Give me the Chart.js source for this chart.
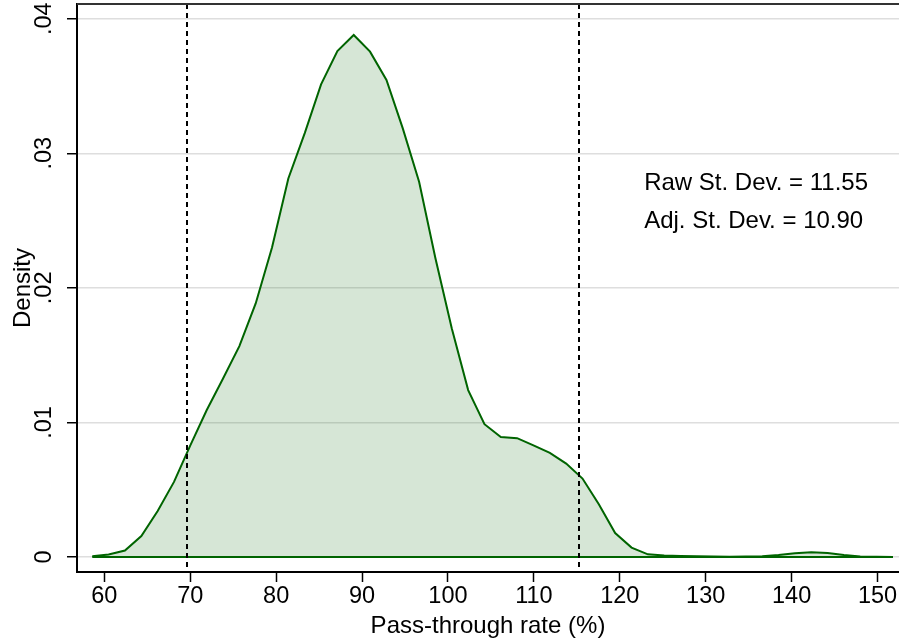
<!DOCTYPE html>
<html>
<head>
<meta charset="utf-8">
<script src="https://cdn.jsdelivr.net/npm/chart.js@4.4.1/dist/chart.umd.min.js"></script>
<style>
  html, body { margin: 0; padding: 0; background: #ffffff; }
  #wrap { width: 899px; height: 644px; }
</style>
</head>
<body>
<div id="wrap"><canvas id="c" width="899" height="644"></canvas></div>
<script>
// ---- data ----
const passThrough = [58.60, 60.50, 62.40, 64.31, 66.21, 68.11, 70.01, 71.91, 73.82, 75.72,
  77.62, 79.52, 81.42, 83.33, 85.23, 87.13, 89.03, 90.93, 92.84, 94.74,
  96.64, 98.54, 100.44, 102.35, 104.25, 106.15, 108.05, 109.95, 111.86, 113.76,
  115.66, 117.56, 119.46, 121.37, 123.27, 125.17, 127.07, 128.97, 130.88, 132.78,
  134.68, 136.58, 138.48, 140.39, 142.29, 144.19, 146.09, 147.99, 149.90, 151.80];
const density = [0.00005, 0.00018, 0.00048, 0.00156, 0.00342, 0.00558, 0.0083, 0.0109, 0.01326, 0.01567,
  0.01884, 0.0230, 0.02813, 0.0315, 0.03512, 0.0376, 0.03879, 0.03755, 0.03544, 0.03185,
  0.02788, 0.0222, 0.0170, 0.0124, 0.00987, 0.00892, 0.00883, 0.00830, 0.00773, 0.00694,
  0.00583, 0.00392, 0.00178, 0.00070, 0.0002, 0.00012, 0.00008, 0.00005, 0.00003, 0.00002,
  0.00003, 0.00006, 0.00014, 0.00028, 0.00036, 0.00030, 0.00014, 0.00004, 0.00001, 0.0];
const baseLevel = [0, 0];
const refLines = [69.6, 115.2];
const xTicks = [60, 70, 80, 90, 100, 110, 120, 130, 140, 150];
const yTicks = [0, 0.01, 0.02, 0.03, 0.04];
const yTickLabels = ['0', '.01', '.02', '.03', '.04'];
const annotations = ['Raw St. Dev. = 11.55', 'Adj. St. Dev. = 10.90'];
const xTitle = 'Pass-through rate (%)';
const yTitle = 'Density';

// ---- build ----
const FONT = '"Liberation Sans", Arial, Helvetica, sans-serif';
const FS = 23.5;
const curve = passThrough.map((x, i) => ({ x: x, y: density[i] }));
const base = [
  { x: passThrough[0], y: baseLevel[0] },
  { x: passThrough[passThrough.length - 1], y: baseLevel[1] }
];

const overlay = {
  id: 'overlay',
  afterDatasetsDraw(chart) {
    const { ctx, chartArea, scales } = chart;
    ctx.save();
    // dashed reference lines
    ctx.strokeStyle = '#000000';
    ctx.lineWidth = 2;
    ctx.setLineDash([5, 4]);
    refLines.forEach(v => {
      const px = Math.round(scales.x.getPixelForValue(v));
      ctx.beginPath();
      ctx.moveTo(px, chartArea.top);
      ctx.lineTo(px, chartArea.bottom);
      ctx.stroke();
    });
    ctx.setLineDash([]);
    // top border
    ctx.strokeStyle = '#333333';
    ctx.lineWidth = 2;
    ctx.beginPath();
    ctx.moveTo(chartArea.left, chartArea.top);
    ctx.lineTo(chart.width, chartArea.top);
    ctx.stroke();
    // annotation text
    ctx.fillStyle = '#000000';
    ctx.font = '24px ' + FONT;
    ctx.textAlign = 'left';
    ctx.textBaseline = 'alphabetic';
    const ax = chartArea.left + (chartArea.right - chartArea.left) * 0.690;
    const ay0 = chartArea.top + (chartArea.bottom - chartArea.top) * 0.327;
    annotations.forEach((t, i) => {
      ctx.fillText(t, ax, ay0 + i * 38);
    });
    ctx.restore();
  }
};

new Chart(document.getElementById('c'), {
  type: 'line',
  data: {
    datasets: [
      {
        data: curve,
        borderColor: '#006400',
        borderWidth: 2,
        backgroundColor: 'rgba(0,100,0,0.16)',
        fill: 'origin',
        pointRadius: 0,
        tension: 0,
        order: 2
      },
      {
        data: base,
        borderColor: '#006400',
        borderWidth: 2,
        pointRadius: 0,
        fill: false,
        order: 1
      }
    ]
  },
  options: {
    responsive: false,
    animation: false,
    devicePixelRatio: 1,
    layout: { padding: { top: 4, right: 0, left: 0, bottom: 0 } },
    plugins: { legend: { display: false }, tooltip: { enabled: false } },
    scales: {
      x: {
        type: 'linear',
        min: 56.82,
        max: 152.5,
        afterBuildTicks: axis => { axis.ticks = xTicks.map(v => ({ value: v })); },
        afterFit: scale => { scale.height = 72; scale.paddingLeft = 0; scale.paddingRight = 0; },
        grid: { drawOnChartArea: false, drawTicks: true, tickLength: 10, tickColor: '#000000', tickWidth: 1.5 },
        border: { color: '#000000', width: 2 },
        ticks: {
          autoSkip: false, maxRotation: 0, minRotation: 0, padding: 0,
          color: '#000000', font: { family: FONT, size: FS },
          callback: (v, i) => String(xTicks[i])
        },
        title: {
          display: true, text: xTitle, color: '#000000',
          font: { family: FONT, size: 24 }, padding: { top: 0, bottom: 3 }
        }
      },
      y: {
        type: 'linear',
        min: -0.001115,
        max: 0.04109,
        afterBuildTicks: axis => { axis.ticks = yTicks.map(v => ({ value: v })); },
        afterFit: scale => { scale.width = 77; scale.paddingTop = 0; scale.paddingBottom = 0; },
        grid: { color: '#dedede', lineWidth: 1.5, drawTicks: true, tickLength: 10, tickColor: '#000000', tickWidth: 1.5 },
        border: { color: '#000000', width: 2 },
        ticks: {
          autoSkip: false, minRotation: 90, maxRotation: 90, crossAlign: 'center', padding: 6,
          color: '#000000', font: { family: FONT, size: FS },
          callback: (v, i) => yTickLabels[i]
        },
        title: {
          display: true, text: yTitle, color: '#000000',
          font: { family: FONT, size: 24 }, padding: { top: 9, bottom: 0 }
        }
      }
    }
  },
  plugins: [overlay]
});
</script>
</body>
</html>
